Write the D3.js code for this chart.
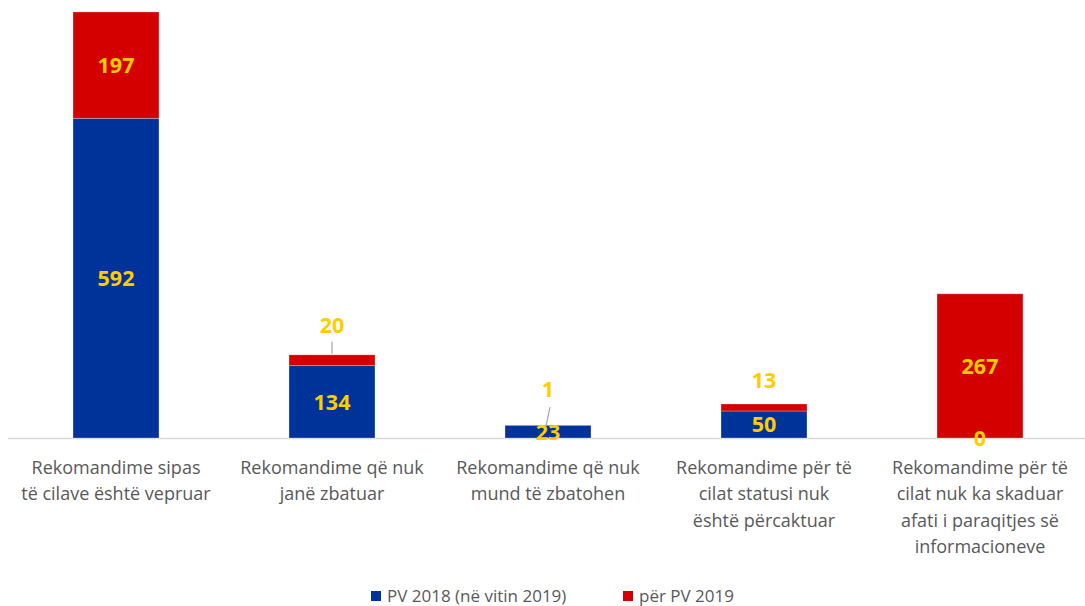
<!DOCTYPE html>
<html><head><meta charset="utf-8">
<script src="https://cdn.jsdelivr.net/npm/d3@7"></script>
<style>body{margin:0;background:#fff}svg{display:block}</style>
</head><body><svg id="c" width="1085" height="606"></svg>
<script>
const categories = [
  ["Rekomandime sipas","të cilave është vepruar"],
  ["Rekomandime që nuk","janë zbatuar"],
  ["Rekomandime që nuk","mund të zbatohen"],
  ["Rekomandime për të","cilat statusi nuk","është përcaktuar"],
  ["Rekomandime për të","cilat nuk ka skaduar","afati i paraqitjes së","informacioneve"]
];
const seriesNames = ["PV 2018 (në vitin 2019)", "për PV 2019"];
const pv2018 = [592, 134, 23, 50, 0];
const pv2019 = [197, 20, 1, 13, 267];
const colors = ["#003399", "#D40000"];

const svg = d3.select("#c");
const font = "'Open Sans', 'Noto Sans', sans-serif";
const x = d3.scaleBand().domain(d3.range(categories.length)).range([8, 1088]).paddingInner(0.602).paddingOuter(0.301);
const y = d3.scaleLinear().domain([0, 800]).range([438, 6]);

const stack = d3.stack().keys([0,1]).value((d,k)=>d[k]);
const rows = pv2018.map((v,i)=>[v, pv2019[i]]);
const layers = stack(rows);

// baseline
svg.append("line").attr("x1",8).attr("x2",1085).attr("y1",y(0)+0.5).attr("y2",y(0)+0.5)
  .attr("stroke","#d9d9d9").attr("stroke-width",1.5);

layers.forEach((layer,k)=>{
  svg.append("g").selectAll("rect").data(layer).join("rect")
    .attr("x",(d,i)=>x(i)).attr("width",x.bandwidth())
    .attr("y",d=>y(d[1])).attr("height",d=>y(d[0])-y(d[1]))
    .attr("fill",colors[k]).attr("stroke","#fff").attr("stroke-opacity",0.35).attr("stroke-width",0.8);
});

// labels
const lab = svg.append("g").attr("font-family",font).attr("font-weight","bold")
  .attr("font-size",21.5).attr("fill","#FFCC00").attr("text-anchor","middle");
layers[0].forEach((d,i)=>{
  lab.append("text").attr("x",x(i)+x.bandwidth()/2).attr("y",(y(d[0])+y(d[1]))/2).attr("dy","0.36em").text(pv2018[i]);
});
const redOffsets = [null, 30, 36, 24, null]; // null => centered inside
layers[1].forEach((d,i)=>{
  const cx = x(i)+x.bandwidth()/2;
  if (redOffsets[i]===null) {
    lab.append("text").attr("x",cx).attr("y",(y(d[0])+y(d[1]))/2).attr("dy","0.36em").text(pv2019[i]);
  } else {
    lab.append("text").attr("x",cx).attr("y",y(d[1]) - redOffsets[i]).attr("dy","0.36em").text(pv2019[i]);
  }
});
// leader lines
const lead = svg.append("g").attr("stroke","#a6a6a6").attr("stroke-width",1.2);
lead.append("line").attr("x1",x(1)+x.bandwidth()/2).attr("x2",x(1)+x.bandwidth()/2).attr("y1",y(154)-13).attr("y2",y(154)-1);
lead.append("line").attr("x1",x(2)+x.bandwidth()/2+2).attr("x2",x(2)+x.bandwidth()/2-2).attr("y1",y(24)-18).attr("y2",y(24)+1);

// category labels
const cat = svg.append("g").attr("font-family",font).attr("font-size",18).attr("fill","#595959").attr("text-anchor","middle");
categories.forEach((lines,i)=>{
  const t = cat.append("text").attr("x",x(i)+x.bandwidth()/2).attr("y",474);
  lines.forEach((l,j)=>t.append("tspan").attr("x",x(i)+x.bandwidth()/2).attr("y",474+j*26.3).text(l));
});

// legend
const leg = svg.append("g").attr("font-family",font).attr("font-size",17).attr("fill","#595959");
const legX = [371, 623];
seriesNames.forEach((n,k)=>{
  leg.append("rect").attr("x",legX[k]).attr("y",591).attr("width",10).attr("height",10).attr("fill",colors[k]);
  leg.append("text").attr("x",legX[k]+16).attr("y",596).attr("dy","0.36em").text(n);
});
</script></body></html>
